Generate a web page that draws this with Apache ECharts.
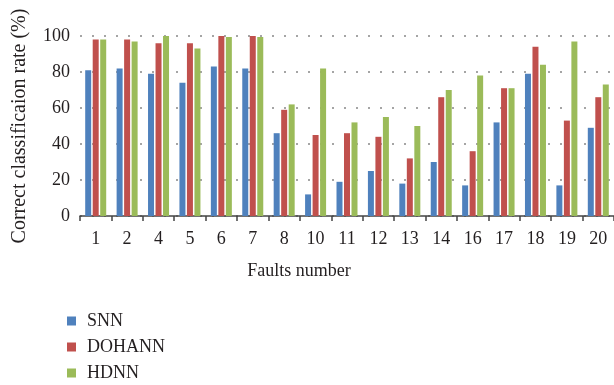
<!DOCTYPE html>
<html><head><meta charset="utf-8">
<script src="https://cdn.jsdelivr.net/npm/echarts@6/dist/echarts.min.js"></script>
<style>html,body{margin:0;padding:0;background:#fff}#c{width:614px;height:385px}</style>
</head><body><div id="c"></div>
<script>
var categories = ['1','2','4','5','6','7','8','10','11','12','13','14','16','17','18','19','20'];
var snn    = [81, 82, 79, 74, 83, 82, 46, 12, 19, 25, 18, 30, 17, 52, 79, 17, 49];
var dohann = [98, 98, 96, 96, 100, 100, 59, 45, 46, 44, 32, 66, 36, 71, 94, 53, 66];
var hdnn   = [98, 97, 100, 93, 99.5, 99.5, 62, 82, 52, 55, 50, 70, 78, 71, 84, 97, 73];
var yTicks = [0, 20, 40, 60, 80, 100];

var font = 'Liberation Serif';
var txt = '#231f20';
var chart = echarts.init(document.getElementById('c'));
chart.setOption({
  animation: false,
  textStyle: {fontFamily: font},
  grid: {left: 80, right: 0, top: 36, bottom: 169},
  legend: {
    orient: 'vertical', left: 62, top: 307, height: 120,
    itemWidth: 9, itemHeight: 9, itemGap: 8,
    icon: 'rect',
    textStyle: {fontFamily: font, fontSize: 18, color: txt, padding: [0,0,0,6]},
    data: ['SNN', 'DOHANN', 'HDNN']
  },
  xAxis: {
    type: 'category', data: categories,
    name: 'Faults number', nameLocation: 'middle', nameGap: 46,
    nameTextStyle: {fontFamily: font, fontSize: 18, color: txt, padding: [0, 96, 0, 0]},
    axisLine: {lineStyle: {color: '#444', width: 1.5}},
    axisTick: {show: true, length: 5, lineStyle: {color: '#444', width: 1.5}},
    axisLabel: {fontFamily: font, fontSize: 18, color: txt, margin: 14}
  },
  yAxis: {
    type: 'value', min: 0, max: 100, interval: 20,
    name: 'Correct classificaion rate (%)', nameLocation: 'middle', nameGap: 50,
    nameTextStyle: {fontFamily: font, fontSize: 20, color: txt},
    axisLine: {show: false}, axisTick: {show: false},
    axisLabel: {fontFamily: font, fontSize: 18, color: txt, margin: 10,
      formatter: function(v){ return yTicks.indexOf(v) >= 0 ? String(v) : ''; }},
    splitLine: {show: true, lineStyle: {color: '#888', width: 1.5, type: [2, 10]}}
  },
  series: [
    {name: 'SNN', type: 'bar', data: snn, barWidth: 6, barGap: '25%', itemStyle: {color: '#4F81BD'}},
    {name: 'DOHANN', type: 'bar', data: dohann, barWidth: 6, barGap: '25%', itemStyle: {color: '#C0504D'}},
    {name: 'HDNN', type: 'bar', data: hdnn, barWidth: 6, barGap: '25%', itemStyle: {color: '#9BBB59'}}
  ]
});
</script></body></html>
